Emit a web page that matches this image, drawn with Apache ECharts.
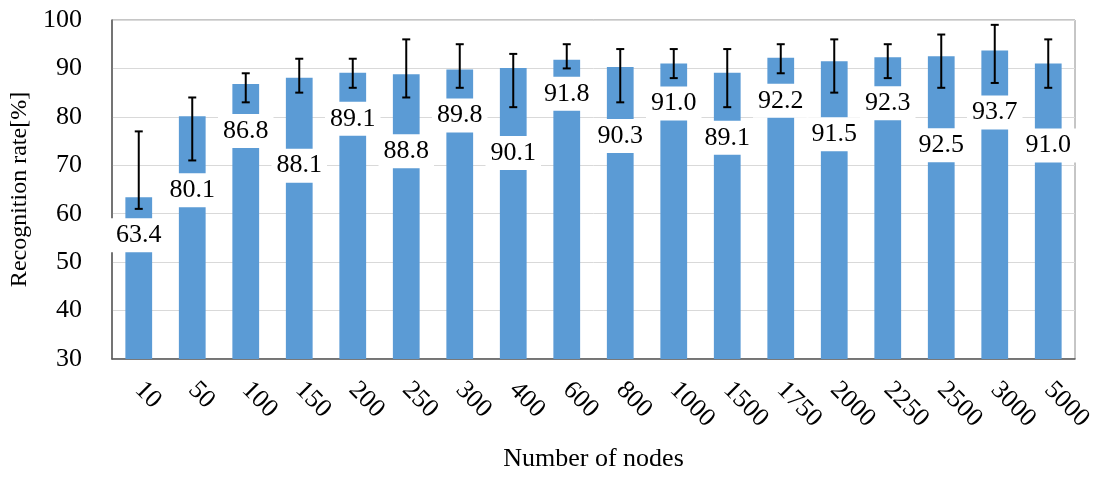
<!DOCTYPE html>
<html>
<head>
<meta charset="utf-8">
<script src="https://cdn.jsdelivr.net/npm/echarts@6/dist/echarts.min.js"></script>
<style>
  html, body { margin: 0; padding: 0; background: #fff; }
  #chart { width: 1100px; height: 477px; }
</style>
</head>
<body>
<div id="chart"></div>
<script>
// Number of nodes on the x axis
const categories = ['10', '50', '100', '150', '200', '250', '300', '400', '600', '800',
  '1000', '1500', '1750', '2000', '2250', '2500', '3000', '5000'];
// Mean recognition rate [%]
const rates = [63.4, 80.1, 86.8, 88.1, 89.1, 88.8, 89.8, 90.1, 91.8, 90.3,
  91.0, 89.1, 92.2, 91.5, 92.3, 92.5, 93.7, 91.0];
// Lower and upper ends of each error bar [%]
const errLow = [61, 71, 83, 85, 86, 84, 86, 82, 90, 83, 88, 82, 89, 85, 88, 86, 87, 86];
const errHigh = [77, 84, 89, 92, 92, 96, 95, 93, 95, 94, 94, 94, 95, 96, 95, 97, 99, 96];
// Y axis ticks
const yMin = 30, yMax = 100, yStep = 10;

// Vertical drop (px) of each value label below its bar top
const labelDrop = [38, 74, 47, 88, 46, 77, 46, 85, 34, 69, 40, 65, 43, 73, 46, 89, 62, 82];

const FONT = '"Liberation Serif", "Times New Roman", serif';

const chart = echarts.init(document.getElementById('chart'), null, { renderer: 'canvas' });

chart.setOption({
  animation: false,
  backgroundColor: '#fff',
  grid: {
    left: 112, right: 25, top: 20, bottom: 115,
    show: true, borderColor: '#8c8c8c', borderWidth: 1
  },
  xAxis: {
    type: 'category',
    data: categories,
    name: 'Number of nodes',
    nameLocation: 'middle',
    nameGap: 87,
    nameTextStyle: { fontFamily: FONT, fontSize: 26, color: '#000' },
    axisLine: { lineStyle: { color: '#595959', width: 1.5 } },
    axisTick: { show: false },
    axisLabel: {
      rotate: -45, margin: 27, interval: 0,
      fontFamily: FONT, fontSize: 26, color: '#000'
    }
  },
  yAxis: {
    type: 'value',
    min: yMin, max: yMax, interval: yStep,
    name: 'Recognition rate[%]',
    nameLocation: 'middle',
    nameGap: 78,
    nameTextStyle: { fontFamily: FONT, fontSize: 24, color: '#000' },
    axisLine: { show: true, lineStyle: { color: '#595959', width: 1.5 } },
    axisTick: { show: false },
    axisLabel: { margin: 30, fontFamily: FONT, fontSize: 26, color: '#000' },
    splitLine: { lineStyle: { color: '#d9d9d9', width: 1 } }
  },
  series: [
    {
      type: 'bar',
      barWidth: '50%',
      itemStyle: { color: '#5b9bd5' },
      data: rates.map((v, i) => ({
        value: v,
        label: { position: ['50%', labelDrop[i]] }
      })),
      label: {
        show: true,
        align: 'center',
        verticalAlign: 'middle',
        formatter: p => p.value.toFixed(1),
        fontFamily: FONT,
        fontSize: 26,
        color: '#000',
        backgroundColor: '#fff',
        padding: [5, 5, 3, 5]
      },
      z: 2
    },
    {
      type: 'custom',
      data: categories.map((c, i) => [i, errLow[i], errHigh[i]]),
      renderItem: (params, api) => {
        const lo = api.coord([api.value(0), api.value(1)]);
        const hi = api.coord([api.value(0), api.value(2)]);
        const cap = 4;
        const style = { stroke: '#000', lineWidth: 2 };
        return {
          type: 'group',
          children: [
            { type: 'line', shape: { x1: hi[0], y1: hi[1], x2: lo[0], y2: lo[1] }, style },
            { type: 'line', shape: { x1: hi[0] - cap, y1: hi[1], x2: hi[0] + cap, y2: hi[1] }, style },
            { type: 'line', shape: { x1: lo[0] - cap, y1: lo[1], x2: lo[0] + cap, y2: lo[1] }, style }
          ]
        };
      },
      z: 3
    }
  ]
});
</script>
</body>
</html>
